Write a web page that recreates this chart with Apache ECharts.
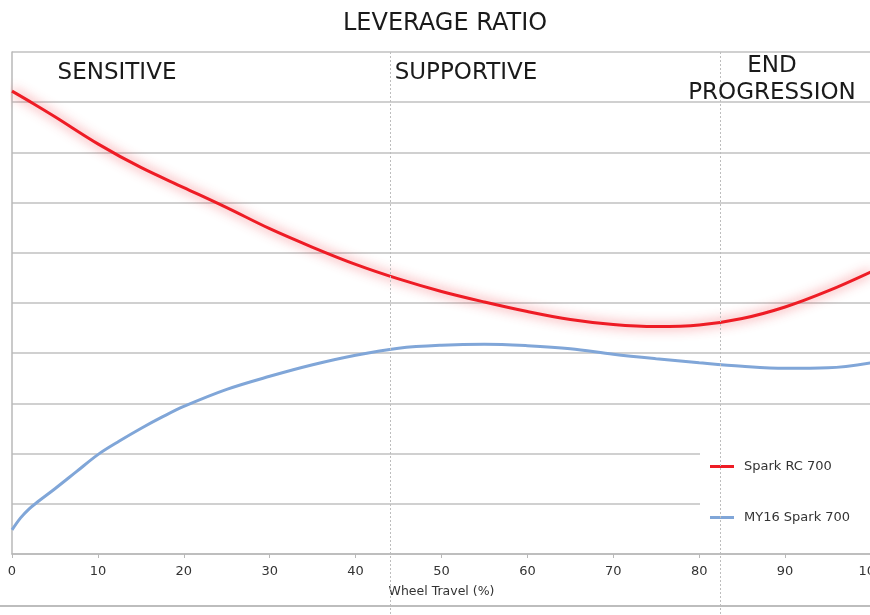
<!DOCTYPE html>
<html>
<head>
<meta charset="utf-8">
<script src="https://cdn.jsdelivr.net/npm/echarts@6/dist/echarts.min.js"></script>
<style>html,body{margin:0;padding:0;background:#fff}#c{width:870px;height:615px}</style>
</head>
<body>
<div id="c"></div>
<script>
// Wheel travel (%) sample positions
const travel = [0, 2.5, 5, 10, 15, 20, 25, 30, 35, 40, 45, 50, 55, 60, 65, 70, 75, 80, 85, 90, 95, 100];
// Spark RC 700 leverage (relative units, axis unlabeled)
const sparkRC = [9.22, 8.97, 8.71, 8.17, 7.70, 7.30, 6.90, 6.48, 6.11, 5.77, 5.48, 5.23, 5.02, 4.83, 4.67, 4.57, 4.53, 4.56, 4.69, 4.92, 5.24, 5.62];
// MY16 Spark 700
const travelMY16 = [0, 1, 2, 3, 5, 7.5, 10, 12.5, 15, 17.5, 20, 25, 30, 35, 40, 45, 50, 55, 60, 65, 70, 75, 80, 85, 90, 95, 100];
const my16 = [0.48, 0.72, 0.90, 1.04, 1.30, 1.64, 1.98, 2.25, 2.50, 2.73, 2.94, 3.28, 3.54, 3.77, 3.96, 4.10, 4.16, 4.18, 4.15, 4.09, 3.98, 3.89, 3.81, 3.74, 3.70, 3.71, 3.81];
const xTicks = [0, 10, 20, 30, 40, 50, 60, 70, 80, 90, 100];
const zoneBounds = [44, 82.4];
const seriesNames = ['Spark RC 700', 'MY16 Spark 700'];
const zoneLabels = ['SENSITIVE', 'SUPPORTIVE', 'END\nPROGRESSION'];
const titleText = 'LEVERAGE RATIO';
const xName = 'Wheel Travel (%)';

const FONT = '"DejaVu Sans", sans-serif';
const chart = echarts.init(document.getElementById('c'), null, {renderer: 'canvas'});
const option = {
  animation: false,
  backgroundColor: '#fff',
  title: {text: titleText, left: 338, top: 7,
    textStyle: {fontFamily: FONT, fontSize: 24, fontWeight: 'normal', color: '#1a1a1a'}},
  grid: {left: 12, width: 859, top: 52, bottom: 61, containLabel: false, outerBoundsMode: 'none'},
  xAxis: {type: 'value', min: 0, max: 100, interval: 10,
    name: xName, nameLocation: 'middle', nameGap: 31,
    nameTextStyle: {fontFamily: FONT, fontSize: 12.5, color: '#333'},
    axisLine: {lineStyle: {color: '#b8b8b8', width: 1.5}},
    axisTick: {show: true, length: 4, lineStyle: {color: '#b8b8b8'}},
    axisLabel: {fontFamily: FONT, fontSize: 13, color: '#333', margin: 11,
      formatter: v => xTicks.includes(v) ? String(v) : ''},
    splitLine: {show: false}},
  yAxis: {type: 'value', min: 0, max: 10, interval: 1,
    axisLine: {show: true, lineStyle: {color: '#b8b8b8', width: 1.5}},
    axisTick: {show: false}, axisLabel: {show: false},
    splitLine: {show: true, lineStyle: {color: '#c0c0c0', width: 1.5}}},
  legend: {orient: 'vertical', left: 700, top: 447, z: 1,
    backgroundColor: '#fff', padding: [13, 60, 20, 10], itemGap: 38,
    icon: 'rect', itemWidth: 24, itemHeight: 3,
    textStyle: {fontFamily: FONT, fontSize: 13, color: '#333', padding: [0, 0, 0, 5]},
    data: seriesNames},
  series: [
    {name: seriesNames[0], type: 'line', symbol: 'none', smooth: 0.35,
      data: travel.map((t, i) => [t, sparkRC[i]]),
      itemStyle: {color: '#ee1c25'},
      lineStyle: {color: '#ee1c25', width: 3, shadowColor: 'rgba(238,40,50,0.8)', shadowBlur: 12},
      z: 3},
    {name: seriesNames[1], type: 'line', symbol: 'none', smooth: 0.35,
      data: travelMY16.map((t, i) => [t, my16[i]]),
      itemStyle: {color: '#80a6d8'},
      lineStyle: {color: '#80a6d8', width: 3}}
  ]
};
chart.setOption(option);

// zone dividers and labels, positioned through the x scale
const topY = 52, bottomY = 615;
const gfx = [];
zoneBounds.forEach(b => {
  const px = Math.round(chart.convertToPixel({xAxisIndex: 0}, b)) + 0.5;
  gfx.push({type: 'line', z: 10, silent: true,
    shape: {x1: px, y1: topY, x2: px, y2: bottomY},
    style: {stroke: '#bdbdbd', lineWidth: 1, lineDash: [2, 2]}});
});
gfx.push({type: 'line', z: 10, silent: true, shape: {x1: 0, y1: 606, x2: 870, y2: 606},
  style: {stroke: '#bdbdbd', lineWidth: 2}});
const labelPos = [[117, 73], [466, 73], [772, 80]];
zoneLabels.forEach((t, i) => {
  gfx.push({type: 'text', z: 10, silent: true, x: labelPos[i][0], y: labelPos[i][1],
    style: {text: t, fontFamily: FONT, fontSize: 23, fill: '#1a1a1a',
      align: 'center', verticalAlign: 'middle', lineHeight: 27}});
});
chart.setOption({graphic: gfx});
</script>
</body>
</html>
